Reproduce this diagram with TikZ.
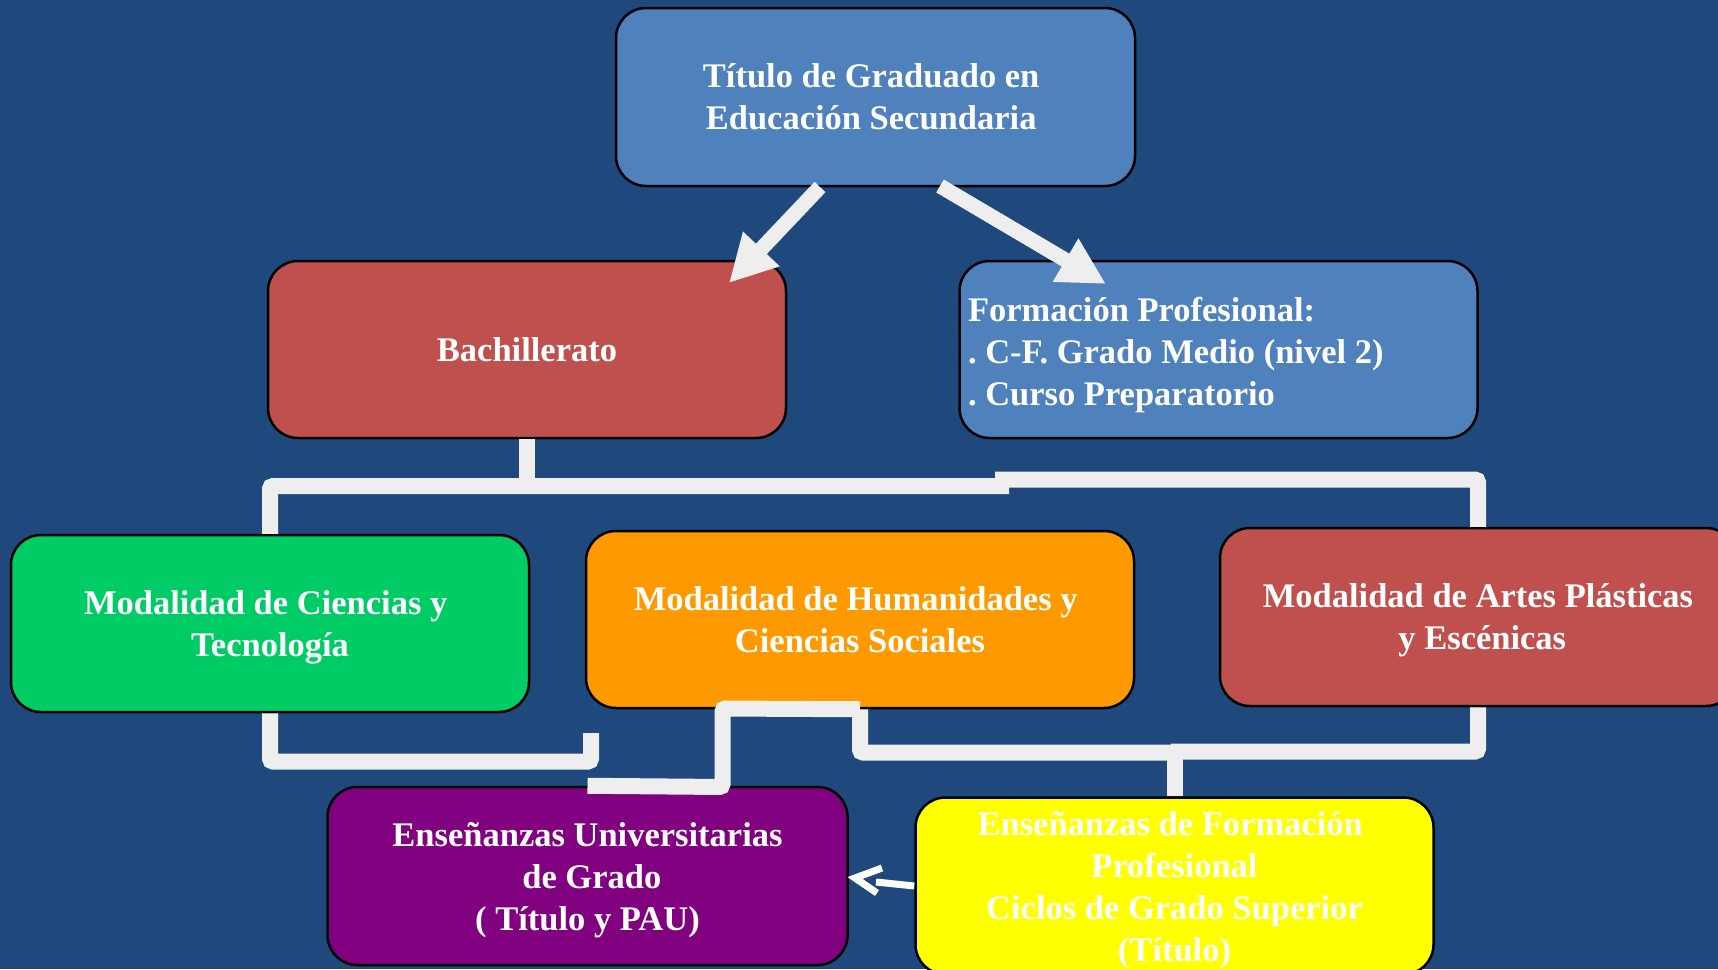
\documentclass[tikz,border=0pt]{standalone}
\usepackage{fontspec}
\setmainfont{Liberation Serif}
\usetikzlibrary{arrows.meta,calc}
\definecolor{bg}{HTML}{1F497D}
\definecolor{boxblue}{HTML}{4F81BD}
\definecolor{boxred}{HTML}{C0504D}
\definecolor{boxgreen}{HTML}{00CC66}
\definecolor{boxorange}{HTML}{FF9900}
\definecolor{boxpurple}{HTML}{800080}
\definecolor{boxyellow}{HTML}{FFFF00}
\definecolor{connc}{HTML}{EEEEEE}
\newcommand{\tsp}{\hspace*{0.25em}}
\frenchspacing
\begin{document}
\begin{tikzpicture}[x=1pt,y=-1pt,
  box/.style={draw=black, line width=2.5pt, rounded corners=30pt, minimum width=518pt, minimum height=177pt, inner sep=0pt, align=center, text=white, text depth=-13pt, font=\fontsize{34.5}{42}\selectfont\bfseries\frenchspacing},
  connector/.style={draw=connc, line width=16pt, rounded corners=3pt},
  bigarrow/.style={draw=connc, line width=15pt, -{Triangle[length=47pt,width=47pt]}},
  smallarrow/.style={draw=white, line width=7pt},
]
\fill[bg] (0,0) rectangle (1718,969);
\useasboundingbox (0,0) rectangle (1718,969);

% boxes
\node[box, fill=boxblue, minimum width=519pt, minimum height=178pt] (tit) at (875.5,97) {Título de Graduado en\tsp\\Educación Secundaria\tsp};
\node[box, fill=boxred] (bach) at (527,349.5) {Bachillerato};
\node[box, fill=boxblue, text width=501pt, inner xsep=8pt, align=left, text height=30pt, text depth=86pt] (fp) at (1218.5,349.5) {\spaceskip=0pt\xspaceskip=0pt\relax Formación Profesional:\\. C-F. Grado Medio (nivel 2)\\. Curso Preparatorio};
\node[box, fill=boxgreen] (cien) at (270,623.5) {Modalidad de Ciencias y\tsp\\Tecnología};
\node[box, fill=boxorange, minimum width=548pt] (hum) at (860,619.5) {Modalidad de Humanidades y\tsp\\Ciencias Sociales};
\node[box, fill=boxred, minimum width=516pt, minimum height=178pt] (art) at (1478,617) {Modalidad de Artes Plásticas\\\tsp y Escénicas};
\node[box, fill=boxpurple, minimum width=520pt, minimum height=178pt] (uni) at (587.5,876) {Enseñanzas Universitarias\\\tsp de Grado\\( Título y PAU)};
\node[box, fill=boxyellow] (fpe) at (1174.5,886) {Enseñanzas de Formación\tsp\\Profesional\\Ciclos de Grado Superior\\(Título)};

% coordinates
\coordinate (a1s) at (820,187);
\coordinate (a1e) at (729,283);
\coordinate (a2s) at (940,186);
\coordinate (a2e) at (1106,284);
\coordinate (j1) at (527,486);
\coordinate (j2) at (1009,486);
\coordinate (j3) at (995,479.5);
\coordinate (u1) at (591,761.5);
\coordinate (u2) at (591,733);
\coordinate (s1) at (722.5,708.5);
\coordinate (s2) at (722.5,787);
\coordinate (m1) at (1172,752.5);
\coordinate (m2) at (1171,751.5);
\coordinate (m3) at (1174.5,752);
\coordinate (b1) at (876,882);
\coordinate (h1) at (882,868);
\coordinate (h2) at (855,878);
\coordinate (h3) at (877,893);

% big arrows
\draw[bigarrow] (a1s) -- (a1e);
\draw[bigarrow] (a2s) -- (a2e);

% upper connectors
\draw[connector] (bach.south) -- (j1);
\draw[connector] (cien.north) |- (j2);
\draw[connector] (j3) -| (art.north);

% lower connectors
\draw[connector] (cien.south) |- (u1) -- (u2);
\draw[connector] (hum.south) -- (s1) -- (s2) -- (uni.north);
\draw[connector] (hum.south) |- (m1);
\draw[connector] (m2) -| (art.south);
\draw[connector] (m3) -- (fpe.north);

% small arrow
\draw[smallarrow] (fpe.west) -- (b1);
\draw[smallarrow, miter limit=10] (h1) -- (h2) -- (h3);
\end{tikzpicture}
\end{document}
